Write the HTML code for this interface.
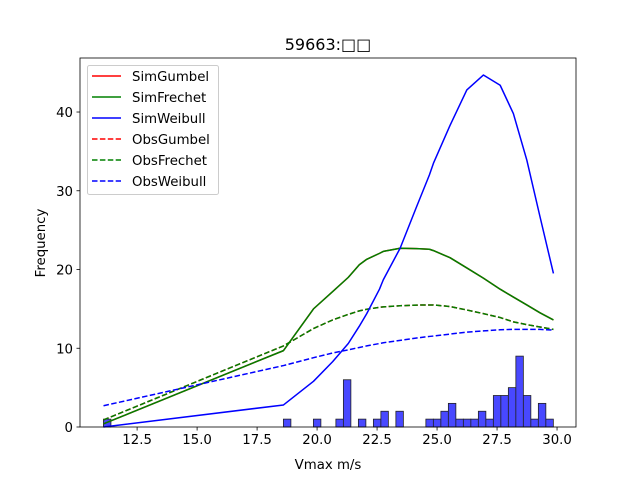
<!DOCTYPE html>
<html><head><meta charset="utf-8"><style>
body{margin:0;background:#fff}
svg text{font-family:"DejaVu Sans","Liberation Sans",sans-serif;fill:#000}
</style></head><body>
<svg id="chart" width="640" height="480" xmlns="http://www.w3.org/2000/svg">
<rect width="640" height="480" fill="#fff"/>
<g id="plot"></g>
</svg>
<script>
const histStart = 11.096;
const histWidth = 0.3125;
const histCounts = [1,0,0,0,0,0,0,0,0,0,0,0,0,0,0,0,0,0,0,0,0,0,0,0,1,0,0,0,1,0,0,1,6,0,1,0,1,2,0,2,0,0,0,1,1,2,3,1,1,1,2,1,4,4,5,9,4,1,3,1];
const curveX = [11.1,18.6,19.85,20.65,21.3,21.76,22.07,22.6,22.76,23.46,24.15,24.68,24.85,25.54,26.24,26.93,27.63,28.18,28.74,29.29,29.85];
const simGumbel  = [0.4,9.7,15.0,17.2,19.0,20.6,21.3,22.05,22.3,22.7,22.65,22.57,22.4,21.5,20.2,18.9,17.5,16.5,15.5,14.5,13.6];
const simFrechet = simGumbel.slice();
const simWeibull = [0.0,2.8,5.8,8.3,10.6,12.8,14.4,17.5,18.7,22.7,28.0,32.0,33.5,38.3,42.8,44.7,43.4,39.8,33.9,26.7,19.5];
const obsGumbel  = [0.9,10.3,12.5,13.6,14.3,14.75,14.95,15.2,15.25,15.4,15.48,15.5,15.5,15.3,14.86,14.4,13.9,13.35,13.0,12.7,12.4];
const obsFrechet = obsGumbel.slice();
const obsWeibull = [2.7,7.8,8.8,9.4,9.8,10.1,10.3,10.6,10.7,11.0,11.3,11.5,11.55,11.8,12.05,12.2,12.35,12.4,12.4,12.4,12.3];
const xTicks = [12.5,15.0,17.5,20.0,22.5,25.0,27.5,30.0];
const yTicks = [0,10,20,30,40];

const L=80,R=576,T=58,B=427;
const xMin=10.12,xMax=30.79,yMin=0,yMax=46.86;
const sx=v=>L+(v-xMin)/(xMax-xMin)*(R-L);
const sy=v=>B-(v-yMin)/(yMax-yMin)*(B-T);
const NS='http://www.w3.org/2000/svg';
const g=document.getElementById('plot');
function mk(tag,attrs,parent){const e=document.createElementNS(NS,tag);for(const k in attrs)e.setAttribute(k,attrs[k]);(parent||g).appendChild(e);return e;}

histCounts.forEach((c,i)=>{ if(!c) return;
  const x0=sx(histStart+i*histWidth), x1=sx(histStart+(i+1)*histWidth);
  const r=mk('rect',{x:x0,y:sy(c),width:x1-x0,height:sy(0)-sy(c),fill:'#4848ff',stroke:'#222',"stroke-width":0.8});
  
  
});
const series=[
 ['sim-gumbel-line',simGumbel,'red',''],
 ['sim-frechet-line',simFrechet,'green',''],
 ['sim-weibull-line',simWeibull,'blue',''],
 ['obs-gumbel-line',obsGumbel,'red','5.5,2.4'],
 ['obs-frechet-line',obsFrechet,'green','5.5,2.4'],
 ['obs-weibull-line',obsWeibull,'blue','5.5,2.4']];
const order=[0,3,1,4,2,5];
order.forEach(k=>{const s=series[k];
  const d=s[1].map((v,i)=>(i?'L':'M')+sx(curveX[i]).toFixed(2)+','+sy(v).toFixed(2)).join('');
  const p=mk('path',{d:d,fill:'none',stroke:s[2],"stroke-width":1.5,"stroke-dasharray":s[3]||'none',"stroke-linejoin":'round'});
  
  
});
const frame=mk('rect',{x:L,y:T,width:R-L,height:B-T,fill:'none',stroke:'#000',"stroke-width":0.8});


xTicks.forEach(v=>{const x=sx(v);
  mk('line',{x1:x,x2:x,y1:B,y2:B+3.5,stroke:'#000',"stroke-width":0.8});
  const t=mk('text',{x:x,y:B+17,"text-anchor":'middle',"font-size":'13.3px'});t.textContent=v.toFixed(1);
  
  
});
yTicks.forEach(v=>{const y=sy(v);
  mk('line',{x1:L-3.5,x2:L,y1:y,y2:y,stroke:'#000',"stroke-width":0.8});
  const t=mk('text',{x:L-7,y:y+5,"text-anchor":'end',"font-size":'13.3px'});t.textContent=String(v);
  
  
});
let t=mk('text',{x:328,y:469,"text-anchor":'middle',"font-size":'13.3px'});t.textContent='Vmax m/s';


t=mk('text',{x:0,y:0,"text-anchor":'middle',"font-size":'13.3px',transform:'translate(45,243) rotate(-90)'});t.textContent='Frequency';


t=mk('text',{x:328,y:50,"text-anchor":'middle',"font-size":'16px'});t.textContent='59663:□□';


const lg=mk('g',{});


mk('rect',{x:87.5,y:65.5,width:131,height:129,rx:2,fill:'#fff',"fill-opacity":0.8,stroke:'#ccc',"stroke-width":1},lg);
series.forEach((s,i)=>{const y=76+i*21;
  const e=mk('g',{},lg);
  
  
  mk('line',{x1:92,x2:121,y1:y,y2:y,stroke:s[2],"stroke-width":1.5,"stroke-dasharray":s[3]||'none'},e);
  const tx=mk('text',{x:132,y:y+5,"font-size":'13.3px'},e);
  tx.textContent=['SimGumbel','SimFrechet','SimWeibull','ObsGumbel','ObsFrechet','ObsWeibull'][i];
});
</script>
</body></html>
